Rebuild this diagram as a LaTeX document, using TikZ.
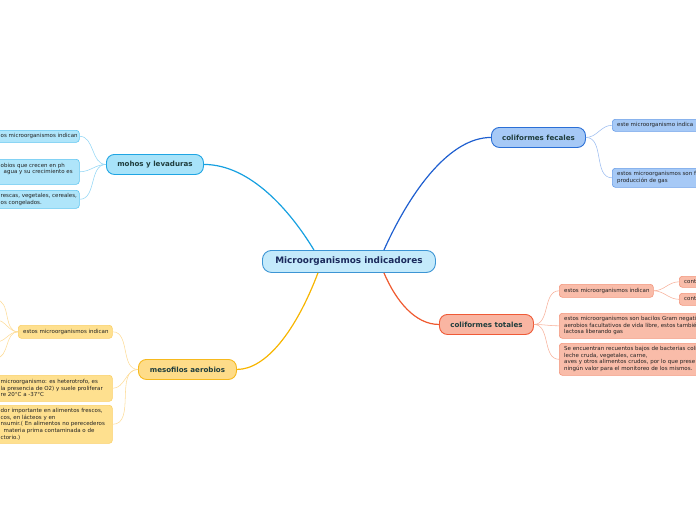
\documentclass[tikz,border=0pt]{standalone}
\usepackage{fontspec}
\setmainfont{DejaVu Sans}
\usetikzlibrary{calc}
\definecolor{cfill}{HTML}{C4EAFB}\definecolor{cdraw}{HTML}{3C95D4}\definecolor{ctext}{HTML}{1B2A5C}
\definecolor{mfill}{HTML}{A8E3F9}\definecolor{mdraw}{HTML}{1FA5E3}\definecolor{mline}{HTML}{16A0E0}
\definecolor{mcfill}{HTML}{AFE5FA}\definecolor{mcdraw}{HTML}{5CC4F0}\definecolor{mcline}{HTML}{92D6F5}
\definecolor{ffill}{HTML}{A6C9F6}\definecolor{fdraw}{HTML}{2A6FD6}\definecolor{fline}{HTML}{1F5FD0}
\definecolor{fcdraw}{HTML}{6A9EE8}\definecolor{fcline}{HTML}{9BBCF0}
\definecolor{tfill}{HTML}{F9B5A2}\definecolor{tdraw}{HTML}{EF5A37}\definecolor{tline}{HTML}{EF5A30}
\definecolor{tcfill}{HTML}{F9BCA9}\definecolor{tcdraw}{HTML}{F3957C}\definecolor{tcline}{HTML}{F7B09A}
\definecolor{efill}{HTML}{FEDC89}\definecolor{edraw}{HTML}{F6B91E}\definecolor{eline}{HTML}{F7B500}
\definecolor{ecfill}{HTML}{FEE08F}\definecolor{ecdraw}{HTML}{FBD069}\definecolor{ecline}{HTML}{FDDC98}
\definecolor{htext}{HTML}{1F3D3D}\definecolor{stext}{HTML}{222222}
\tikzset{
  mainbox/.style={draw, rounded corners=9pt, line width=0.9pt, inner sep=0pt, anchor=north west},
  topicbox/.style={draw, rounded corners=8pt, line width=0.9pt, inner sep=0pt, anchor=north west},
  subbox/.style={draw, rounded corners=3pt, line width=0.6pt, inner sep=0pt, anchor=north west},
  toplbl/.style={inner sep=0pt, text=htext, font=\bfseries\fontsize{7.1}{8}\selectfont},
  sublbl/.style={anchor=west, inner sep=0pt, align=left, text=stext, font=\fontsize{5.5}{6.7}\selectfont},
  bigline/.style={line width=1.2pt},
  smallline/.style={line width=0.55pt},
}
\begin{document}
\begin{tikzpicture}[x=1pt,y=-1pt]
\useasboundingbox (0,0) rectangle (696,520);
% center
\node[mainbox, fill=cfill, draw=cdraw, minimum width=173pt, minimum height=22pt] (c) at (262,250) {};
\node[inner sep=0pt, text=ctext, font=\bfseries\fontsize{8.9}{10}\selectfont] (ct) at (c.center) {Microorganismos indicadores};
% topics
\node[topicbox, fill=mfill, draw=mdraw, minimum width=97pt, minimum height=20pt] (mh) at (106,154) {};
\node[toplbl] (mht) at (mh.center) {mohos y levaduras};
\node[topicbox, fill=ffill, draw=fdraw, minimum width=94pt, minimum height=20pt] (fc) at (491,127) {};
\node[toplbl] (fct) at (fc.center) {coliformes fecales};
\node[topicbox, fill=tfill, draw=tdraw, minimum width=94pt, minimum height=20pt] (tt) at (439,314) {};
\node[toplbl] (ttt) at (tt.center) {coliformes totales};
\node[topicbox, fill=efill, draw=edraw, minimum width=98pt, minimum height=20pt] (ms) at (138,359) {};
\node[toplbl] (mst) at (ms.center) {mesofilos aerobios};
% main connectors
\draw[bigline, mline] ($(c.north)+(-35,0)$) .. controls +(-23,-38) and +(47,0) .. (mh.east);
\draw[bigline, fline] ($(c.north)+(35,0)$) .. controls +(27,-60) and +(-41,0) .. (fc.west);
\draw[bigline, tline] ($(c.south)+(35,0)$) .. controls +(12,28) and +(-24,0) .. (tt.west);
\draw[bigline, eline] ($(c.south)+(-31,0)$) .. controls +(-22,58) and +(29,0) .. (ms.east);
% mohos children
\node[subbox, fill=mcfill, draw=mcdraw, minimum width=92pt, minimum height=12pt] (m1) at (-13,130) {};
\node[sublbl] (m1t) at (0.5,136) {os microorganismos indican};
\node[subbox, fill=mcfill, draw=mcdraw, minimum width=92pt, minimum height=25pt] (m2) at (-13,159) {};
\node[sublbl] (m2t) at (0.5,169) {obios que crecen en ph\\\hspace*{3pt}agua y su crecimiento es};
\node[subbox, fill=mcfill, draw=mcdraw, minimum width=92pt, minimum height=18pt] (m3) at (-13,190) {};
\node[sublbl] (m3t) at (0.5,199.5) {rescas, vegetales, cereales,\\os congelados.};
\foreach \k in {m1,m2,m3} \draw[smallline, mcline] (mh.west) to[out=180,in=0] (\k.east);
% fecales children
\node[subbox, fill=ffill, draw=fcdraw, minimum width=95pt, minimum height=12pt] (f1) at (612,119) {};
\node[sublbl] (f1t) at (617,125) {este microorganismo indica};
\node[subbox, fill=ffill, draw=fcdraw, minimum width=95pt, minimum height=19pt] (f2) at (612,168) {};
\node[sublbl] (f2t) at (617,177.5) {estos microorganismos son f\\producción de gas};
\foreach \k in {f1,f2} \draw[smallline, fcline] (fc.east) to[out=0,in=180] (\k.west);
% totales children
\node[subbox, fill=tcfill, draw=tcdraw, minimum width=94pt, minimum height=13pt] (t1) at (559,284) {};
\node[sublbl] (t1t) at (564,290.5) {estos microorganismos indican};
\node[subbox, fill=tcfill, draw=tcdraw, minimum width=25pt, minimum height=11pt] (t1a) at (679,276) {};
\node[sublbl] (t1at) at (684,281.5) {cont};
\node[subbox, fill=tcfill, draw=tcdraw, minimum width=25pt, minimum height=12pt] (t1b) at (679,293) {};
\node[sublbl] (t1bt) at (684,299) {cont};
\foreach \k in {t1a,t1b} \draw[smallline, tcline] (t1.east) to[out=0,in=180] (\k.west);
\node[subbox, fill=tcfill, draw=tcdraw, minimum width=145pt, minimum height=25pt] (t2) at (559,313) {};
\node[sublbl] (t2t) at (564,325.5) {estos microorganismos son bacilos Gram negati\\aerobios facultativos de vida libre, estos tambié\\lactosa liberando gas};
\node[subbox, fill=tcfill, draw=tcdraw, minimum width=145pt, minimum height=32pt] (t3) at (559,343) {};
\node[sublbl] (t3t) at (564,359) {Se encuentran recuentos bajos de bacterias coli\\leche cruda, vegetales, carne,\\aves y otros alimentos crudos, por lo que prese\\ningún valor para el monitoreo de los mismos.};
\foreach \k in {t1,t2,t3} \draw[smallline, tcline] (tt.east) to[out=0,in=180] (\k.west);
% mesofilos children
\node[subbox, fill=ecfill, draw=ecdraw, minimum width=94pt, minimum height=13pt] (e1) at (18,325) {};
\node[sublbl] (e1t) at (23,331.5) {estos microorganismos indican};
\coordinate (x1) at (-4,300);
\coordinate (x2) at (-4,320);
\coordinate (x3) at (-4,342);
\coordinate (x4) at (-4,358);
\foreach \k in {x1,x2,x3,x4} \draw[smallline, ecline] (e1.west) to[out=180,in=0] (\k);
\node[subbox, fill=ecfill, draw=ecdraw, minimum width=125pt, minimum height=26pt] (e2) at (-13,375) {};
\node[sublbl] (e2t) at (0.5,388) {microorganismo: es heterotrofo, es\\la presencia de O2) y suele proliferar\\re 20°C a -37°C};
\node[subbox, fill=ecfill, draw=ecdraw, minimum width=125pt, minimum height=38pt] (e3) at (-13,405) {};
\node[sublbl] (e3t) at (0.5,424) {dor importante en alimentos frescos,\\cos, en lácteos y en\\nsumir.( En alimentos no perecederos\\\hspace*{3pt}materia prima contaminada o de\\ctorio.)};
\foreach \k in {e1,e2,e3} \draw[smallline, ecline] (ms.west) to[out=180,in=0] (\k.east);
\end{tikzpicture}
\end{document}
